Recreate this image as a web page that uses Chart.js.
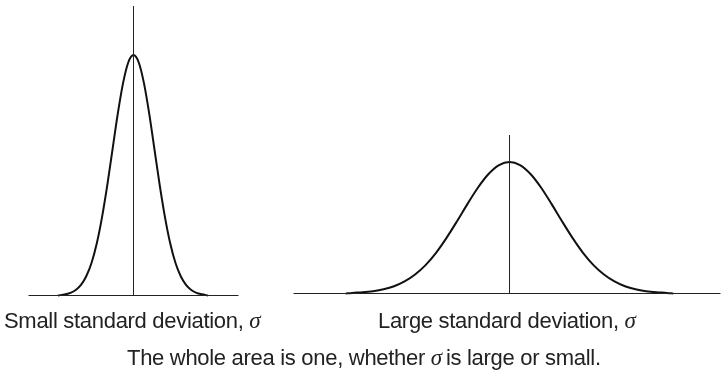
<!DOCTYPE html>
<html>
<head>
<meta charset="utf-8">
<script src="https://cdn.jsdelivr.net/npm/chart.js@4/dist/chart.umd.min.js"></script>
<style>
  html, body { margin: 0; padding: 0; background: #fff; }
  #wrap { position: relative; width: 721px; height: 374px; overflow: hidden; }
  canvas { position: absolute; left: 0; top: 0; }
  .lbl { position: absolute; font-family: "Liberation Sans", Arial, sans-serif; font-size: 22px; line-height: 22px; letter-spacing: -0.3px; color: #222; white-space: nowrap; }
  .sig { font-family: "Liberation Serif", "Times New Roman", serif; font-style: italic; font-size: 23px; }
</style>
</head>
<body>
<div id="wrap">
  <canvas id="c1" width="721" height="374"></canvas>
  <canvas id="c2" width="721" height="374"></canvas>
  <div class="lbl" id="t1" style="left:4px; top:310px;">Small standard deviation, <span class="sig">σ</span></div>
  <div class="lbl" id="t2" style="left:378px; top:310px;">Large standard deviation, <span class="sig">σ</span></div>
  <div class="lbl" id="t3" style="left:127px; top:347px;">The whole area is one, whether <span class="sig">σ</span>&#8201;is large or small.</div>
</div>
<script>
// ---- data (x in common horizontal units, y = relative curve height) ----
const smallX = [-3.6, -3.25, -3, -2.75, -2.5, -2.25, -2, -1.75, -1.5, -1.25, -1, -0.75, -0.5, -0.25, 0,
                0.25, 0.5, 0.75, 1, 1.25, 1.5, 1.75, 2, 2.25, 2.5, 2.75, 3, 3.25, 3.55];
const smallY = [0, 0.005, 0.011, 0.023, 0.044, 0.080, 0.135, 0.216, 0.325, 0.458, 0.607, 0.755, 0.882, 0.969, 1.0,
                0.969, 0.882, 0.755, 0.607, 0.458, 0.325, 0.216, 0.135, 0.080, 0.044, 0.023, 0.011, 0.005, 0];
const largeX = [-7.8, -7.5, -7, -6.5, -6, -5.5, -5, -4.5, -4, -3.5, -3, -2.5, -2, -1.5, -1, -0.5, 0,
                0.5, 1, 1.5, 2, 2.5, 3, 3.5, 4, 4.5, 5, 5.5, 6, 6.5, 7, 7.5, 7.8];
const largeY = [0, 0.0025, 0.005, 0.0096, 0.0174, 0.030, 0.050, 0.079, 0.118, 0.169, 0.231, 0.300, 0.372, 0.440, 0.496, 0.533, 0.546,
                0.533, 0.496, 0.440, 0.372, 0.300, 0.231, 0.169, 0.118, 0.079, 0.050, 0.030, 0.0174, 0.0096, 0.005, 0.0025, 0];
const smallAxisRange = [-5, 5];
const smallMarkerTop = 1.204;
const largeAxisRange = [-10.29, 10.05];
const largeMarkerTop = 0.658;

function pts(xs, ys) { return xs.map((x, i) => ({ x: x, y: ys[i] })); }

function makeChart(id, xs, ys, range, top, padding) {
  return new Chart(document.getElementById(id), {
    type: 'scatter',
    data: {
      datasets: [
        { data: [{ x: range[0], y: 0 }, { x: range[1], y: 0 }], showLine: true, borderColor: '#222', borderWidth: 1, pointRadius: 0 },
        { data: [{ x: 0, y: 0 }, { x: 0, y: top }], showLine: true, borderColor: '#222', borderWidth: 1, pointRadius: 0 },
        { data: pts(xs, ys), showLine: true, borderColor: '#111', borderWidth: 2, pointRadius: 0, cubicInterpolationMode: 'monotone' }
      ]
    },
    options: {
      responsive: false, animation: false, devicePixelRatio: 1,
      layout: { padding: padding },
      plugins: { legend: { display: false }, tooltip: { enabled: false }, title: { display: false } },
      scales: {
        x: { type: 'linear', min: range[0], max: range[1], display: false },
        y: { type: 'linear', min: 0, max: top, display: false }
      },
      elements: { line: { borderCapStyle: 'butt' } },
      clip: false
    }
  });
}

makeChart('c1', smallX, smallY, smallAxisRange, smallMarkerTop, { left: 28.5, right: 482.5, top: 6, bottom: 78.5 });
makeChart('c2', largeX, largeY, largeAxisRange, largeMarkerTop, { left: 293.5, right: 0.5, top: 135, bottom: 80.5 });
</script>
</body>
</html>
